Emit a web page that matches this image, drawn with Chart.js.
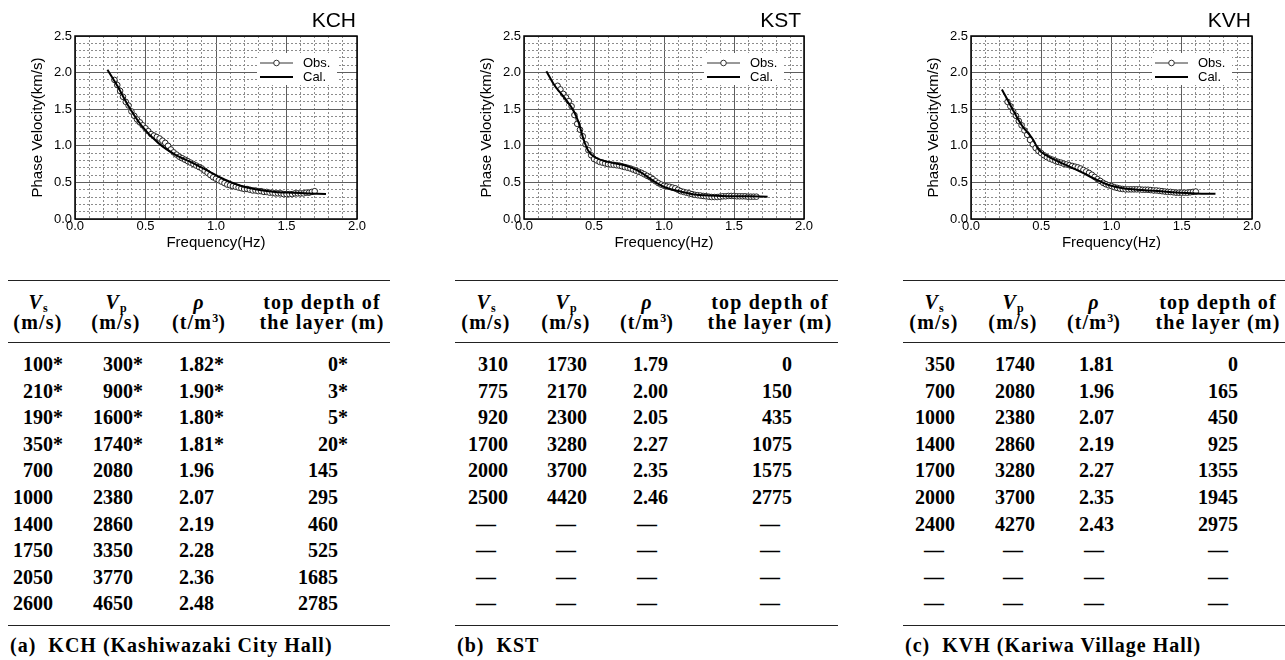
<!DOCTYPE html>
<html>
<head>
<meta charset="utf-8">
<script src="https://cdn.jsdelivr.net/npm/chart.js@4.4.1/dist/chart.umd.min.js"></script>
<style>
  body { margin: 0; width: 1285px; height: 660px; background: #fff; position: relative; overflow: hidden;
         font-family: "Liberation Serif", "Times New Roman", serif; color: #000; }
  canvas { position: absolute; top: 0; }
  .st { position: absolute; top: 7px; font: 21px "Liberation Sans", Arial, sans-serif; line-height: 26px; text-align: right; width: 100px; }
  .rule { position: absolute; height: 0; border-top: 1.3px solid #222; }
  .cell { position: absolute; font-weight: bold; font-size: 20px; line-height: 24px; white-space: nowrap; width: 200px; }
  .r { text-align: right; }
  .c { text-align: center; }
  .hd { letter-spacing: 1.2px; }
  .hd sub, .hd sup { font-size: 12px; letter-spacing: 0; }
  .hd sub { vertical-align: -3px; }
  .hd sup { vertical-align: 7px; line-height: 0; }
  .star { display: inline-block; width: 0; }
  .cap { position: absolute; top: 633px; font-weight: bold; font-size: 20px; letter-spacing: 1px; line-height: 24px; white-space: nowrap; }
</style>
</head>
<body>
<canvas id="kch" width="430" height="260" style="left:0px"></canvas>
<canvas id="kst" width="430" height="260" style="left:449px"></canvas>
<canvas id="kvh" width="389" height="260" style="left:896px"></canvas>
<div class="st" style="left:256px">KCH</div>
<div class="st" style="left:701px">KST</div>
<div class="st" style="left:1151px">KVH</div>
<div id="tables"></div>

<script>
// axis tick labels
const freqLabels = ["0.0", "0.5", "1.0", "1.5", "2.0"];
const velLabels = ["0.0", "0.5", "1.0", "1.5", "2.0", "2.5"];

// KCH dispersion curves
const kchObsF = [0.28,0.30,0.32,0.34,0.36,0.38,0.40,0.42,0.44,0.46,0.48,0.50,0.52,0.54,0.56,0.58,0.60,0.62,0.64,0.66,0.68,0.70,0.72,0.74,0.76,0.78,0.80,0.82,0.84,0.86,0.88,0.90,0.92,0.94,0.96,0.98,1.00,1.02,1.04,1.06,1.08,1.10,1.12,1.14,1.16,1.18,1.20,1.22,1.24,1.26,1.28,1.30,1.32,1.34,1.36,1.38,1.40,1.42,1.44,1.46,1.48,1.50,1.52,1.54,1.56,1.58,1.60,1.62,1.64,1.66,1.68,1.70];
const kchObsV = [1.90,1.83,1.75,1.67,1.60,1.55,1.47,1.41,1.36,1.32,1.28,1.24,1.20,1.16,1.14,1.12,1.10,1.07,1.04,1.00,0.95,0.91,0.88,0.85,0.83,0.81,0.79,0.77,0.75,0.73,0.71,0.69,0.66,0.63,0.60,0.57,0.55,0.53,0.51,0.49,0.47,0.46,0.45,0.44,0.43,0.42,0.41,0.41,0.40,0.39,0.39,0.38,0.38,0.37,0.37,0.36,0.36,0.35,0.35,0.35,0.34,0.34,0.34,0.34,0.35,0.35,0.35,0.35,0.36,0.36,0.37,0.38];
const kchCalF = [0.23,0.30,0.38,0.47,0.59,0.71,0.83,0.95,1.06,1.18,1.30,1.42,1.54,1.66,1.78];
const kchCalV = [2.04,1.82,1.54,1.28,1.04,0.88,0.77,0.65,0.54,0.45,0.40,0.37,0.36,0.35,0.34];

// KST dispersion curves
const kstObsF = [0.24,0.26,0.28,0.30,0.32,0.34,0.36,0.38,0.40,0.42,0.44,0.46,0.48,0.50,0.52,0.54,0.56,0.58,0.60,0.62,0.64,0.66,0.68,0.70,0.72,0.74,0.76,0.78,0.80,0.82,0.84,0.86,0.88,0.90,0.92,0.94,0.96,0.98,1.00,1.02,1.04,1.06,1.08,1.10,1.12,1.14,1.16,1.18,1.20,1.22,1.24,1.26,1.28,1.30,1.32,1.34,1.36,1.38,1.40,1.42,1.44,1.46,1.48,1.50,1.52,1.54,1.56,1.58,1.60,1.62,1.64,1.66];
const kstObsV = [1.82,1.77,1.71,1.66,1.61,1.54,1.42,1.30,1.22,1.13,1.02,0.94,0.87,0.82,0.80,0.78,0.77,0.76,0.75,0.745,0.74,0.735,0.73,0.72,0.71,0.70,0.69,0.675,0.66,0.645,0.63,0.61,0.59,0.57,0.545,0.515,0.49,0.47,0.455,0.445,0.44,0.43,0.42,0.40,0.38,0.37,0.36,0.35,0.34,0.33,0.325,0.32,0.315,0.31,0.305,0.30,0.30,0.30,0.305,0.31,0.31,0.315,0.315,0.315,0.31,0.31,0.31,0.31,0.305,0.305,0.305,0.305];
const kstCalF = [0.16,0.22,0.30,0.355,0.39,0.425,0.46,0.51,0.60,0.72,0.82,0.94,1.01,1.13,1.22,1.41,1.60,1.74];
const kstCalV = [2.02,1.82,1.63,1.475,1.32,1.09,0.93,0.84,0.78,0.735,0.655,0.50,0.43,0.37,0.335,0.315,0.31,0.305];

// KVH dispersion curves
const kvhObsF = [0.26,0.28,0.30,0.32,0.34,0.36,0.38,0.40,0.42,0.44,0.46,0.48,0.50,0.52,0.54,0.56,0.58,0.60,0.62,0.64,0.66,0.68,0.70,0.72,0.74,0.76,0.78,0.80,0.82,0.84,0.86,0.88,0.90,0.92,0.94,0.96,0.98,1.00,1.02,1.04,1.06,1.08,1.10,1.12,1.14,1.16,1.18,1.20,1.22,1.24,1.26,1.28,1.30,1.32,1.34,1.36,1.38,1.40,1.42,1.44,1.46,1.48,1.50,1.52,1.54,1.56,1.58,1.60];
const kvhObsV = [1.60,1.54,1.47,1.41,1.34,1.28,1.21,1.15,1.08,1.02,0.97,0.93,0.90,0.87,0.845,0.825,0.81,0.795,0.78,0.77,0.755,0.745,0.735,0.725,0.715,0.705,0.69,0.67,0.65,0.63,0.605,0.575,0.545,0.52,0.495,0.475,0.46,0.45,0.435,0.425,0.415,0.41,0.405,0.405,0.405,0.405,0.405,0.405,0.40,0.40,0.40,0.395,0.39,0.39,0.385,0.38,0.375,0.37,0.37,0.365,0.36,0.36,0.36,0.36,0.36,0.365,0.37,0.375];
const kvhCalF = [0.22,0.29,0.365,0.44,0.48,0.555,0.65,0.77,0.89,0.98,1.08,1.22,1.41,1.60,1.74];
const kvhCalV = [1.77,1.52,1.27,1.09,0.95,0.85,0.76,0.655,0.54,0.465,0.42,0.395,0.37,0.35,0.345];

// layer tables
const kchVs = ["100*","210*","190*","350*","700","1000","1400","1750","2050","2600"];
const kchVp = ["300*","900*","1600*","1740*","2080","2380","2860","3350","3770","4650"];
const kchRho = ["1.82*","1.90*","1.80*","1.81*","1.96","2.07","2.19","2.28","2.36","2.48"];
const kchDepth = ["0*","3*","5*","20*","145","295","460","525","1685","2785"];

const kstVs = ["310","775","920","1700","2000","2500","—","—","—","—"];
const kstVp = ["1730","2170","2300","3280","3700","4420","—","—","—","—"];
const kstRho = ["1.79","2.00","2.05","2.27","2.35","2.46","—","—","—","—"];
const kstDepth = ["0","150","435","1075","1575","2775","—","—","—","—"];

const kvhVs = ["350","700","1000","1400","1700","2000","2400","—","—","—"];
const kvhVp = ["1740","2080","2380","2860","3280","3700","4270","—","—","—"];
const kvhRho = ["1.81","1.96","2.07","2.19","2.27","2.35","2.43","—","—","—"];
const kvhDepth = ["0","165","450","925","1355","1945","2975","—","—","—"];

Chart.defaults.font.family = '"Liberation Sans", Arial, sans-serif';
Chart.defaults.color = "#000";

function isMajor(v) {
  return Math.abs(v * 2 - Math.round(v * 2)) < 1e-6;
}

function toPoints(xs, ys) {
  return xs.map((x, i) => ({ x: x, y: ys[i] }));
}

// frame round the plot area
const frame = {
  id: "frame",
  afterDraw(chart) {
    const a = chart.chartArea, c = chart.ctx;
    c.save();
    c.strokeStyle = "#000";
    c.lineWidth = 1.5;
    c.strokeRect(a.left, a.top, a.right - a.left, a.bottom - a.top);
    c.restore();
  }
};

// small legend box inside the plot, top right
const innerLegend = {
  id: "innerLegend",
  afterDatasetsDraw(chart) {
    const a = chart.chartArea, c = chart.ctx;
    const x0 = a.right - 97, x1 = a.right - 64, tx = a.right - 54;
    const y1 = a.top + 27, y2 = a.top + 41;
    c.save();
    c.fillStyle = "#fff";
    c.fillRect(a.right - 100, a.top + 17, 80, 32);
    c.strokeStyle = "#333";
    c.lineWidth = 1;
    c.beginPath(); c.moveTo(x0, y1); c.lineTo(x1, y1); c.stroke();
    c.beginPath(); c.arc((x0 + x1) / 2, y1, 2.8, 0, Math.PI * 2);
    c.fillStyle = "#fff"; c.fill(); c.stroke();
    c.strokeStyle = "#000";
    c.lineWidth = 2;
    c.beginPath(); c.moveTo(x0, y2); c.lineTo(x1, y2); c.stroke();
    c.fillStyle = "#000";
    c.font = '13px "Liberation Sans", Arial, sans-serif';
    c.textBaseline = "middle";
    c.fillText("Obs.", tx, y1);
    c.fillText("Cal.", tx, y2);
    c.restore();
  }
};

function makeChart(id, obsF, obsV, calF, calV, padRight) {
  const ctx = document.getElementById(id).getContext("2d");
  return new Chart(ctx, {
    type: "line",
    data: {
      datasets: [
        {
          label: "Cal.",
          data: toPoints(calF, calV),
          borderColor: "#000",
          borderWidth: 2,
          pointRadius: 0,
          cubicInterpolationMode: "monotone",
          order: 0
        },
        {
          label: "Obs.",
          data: toPoints(obsF, obsV),
          borderColor: "#333",
          borderWidth: 0.8,
          pointRadius: 2.8,
          pointBorderWidth: 1,
          pointBorderColor: "#222",
          pointBackgroundColor: "#fff",
          order: 1
        }
      ]
    },
    options: {
      responsive: false,
      devicePixelRatio: 1,
      animation: false,
      layout: { padding: { top: 36, right: padRight, bottom: 0, left: 0 } },
      plugins: { legend: { display: false }, tooltip: { enabled: false } },
      scales: {
        x: {
          type: "linear",
          min: 0,
          max: 2,
          afterFit: function (s) { s.height = 41; },
          ticks: {
            stepSize: 0.1,
            autoSkip: false,
            maxRotation: 0,
            padding: 0,
            font: { size: 13 },
            callback: function (v) {
              const s = Number(v).toFixed(1);
              return freqLabels.includes(s) && isMajor(v) ? s : "";
            }
          },
          grid: {
            drawTicks: false,
            lineWidth: 1,
            color: c => (c.tick && isMajor(c.tick.value) ? "#5e5e5e" : "#8c8c8c")
          },
          border: {
            display: false,
            dash: c => (c.tick && !isMajor(c.tick.value) ? [2, 2] : [])
          },
          title: {
            display: true,
            text: "Frequency(Hz)",
            font: { size: 15 },
            padding: { top: 0, bottom: 8 }
          }
        },
        y: {
          min: 0,
          max: 2.5,
          afterFit: function (s) { s.width = 75; },
          ticks: {
            stepSize: 0.1,
            autoSkip: false,
            padding: 3,
            font: { size: 13 },
            callback: function (v) {
              const s = Number(v).toFixed(1);
              return velLabels.includes(s) && isMajor(v) ? s : "";
            }
          },
          grid: {
            drawTicks: false,
            lineWidth: 1,
            color: c => (c.tick && isMajor(c.tick.value) ? "#5e5e5e" : "#8c8c8c")
          },
          border: {
            display: false,
            dash: c => (c.tick && !isMajor(c.tick.value) ? [2, 2] : [])
          },
          title: {
            display: true,
            text: "Phase Velocity(km/s)",
            font: { size: 15 },
            padding: { top: 29, bottom: 0 }
          }
        }
      }
    },
    plugins: [frame, innerLegend]
  });
}

makeChart("kch", kchObsF, kchObsV, kchCalF, kchCalV, 73);
makeChart("kst", kstObsF, kstObsV, kstCalF, kstCalV, 75);
makeChart("kvh", kvhObsF, kvhObsV, kvhCalF, kvhCalV, 33);

// tables
const holder = document.getElementById("tables");

function addDiv(cls, left, top, html, width) {
  const d = document.createElement("div");
  d.className = cls;
  d.style.left = left + "px";
  d.style.top = top + "px";
  if (width !== undefined) d.style.width = width + "px";
  d.innerHTML = html;
  holder.appendChild(d);
}

function cellHtml(t) {
  return t.endsWith("*") ? t.slice(0, -1) + '<span class="star">*</span>' : t;
}

function makeTable(x0, x1, cols, caption) {
  addDiv("rule", x0, 280, "", x1 - x0);
  addDiv("rule", x0, 342, "", x1 - x0);
  addDiv("rule", x0, 625, "", x1 - x0);
  const heads = [
    ['<i>V</i><sub>s</sub>', "(m/s)"],
    ['<i>V</i><sub>p</sub>', "(m/s)"],
    ['<i>ρ</i>', "(t/m<sup>3</sup>)"],
    ["top depth of", "the layer (m)"]
  ];
  cols.forEach((col, k) => {
    addDiv("cell c hd", col.center - 100, 290, heads[k][0]);
    addDiv("cell c hd", col.center - 100, 310, heads[k][1]);
    col.values.forEach((v, i) => {
      const top = 352 + i * 26.6;
      if (v === "—") addDiv("cell c", col.center - 100, top, v);
      else addDiv("cell r", col.right - 200, top, cellHtml(v));
    });
  });
  addDiv("cap", caption.left, 633, caption.text);
}

makeTable(8, 390, [
  { values: kchVs, right: 53, center: 38 },
  { values: kchVp, right: 133, center: 116 },
  { values: kchRho, right: 214, center: 199 },
  { values: kchDepth, right: 338, center: 322 }
], { left: 10, text: "(a)&nbsp; KCH (Kashiwazaki City Hall)" });

makeTable(455, 838, [
  { values: kstVs, right: 508, center: 486 },
  { values: kstVp, right: 587, center: 566 },
  { values: kstRho, right: 668, center: 647 },
  { values: kstDepth, right: 792, center: 770 }
], { left: 457, text: "(b)&nbsp; KST" });

makeTable(903, 1285, [
  { values: kvhVs, right: 955, center: 934 },
  { values: kvhVp, right: 1035, center: 1013 },
  { values: kvhRho, right: 1114, center: 1094 },
  { values: kvhDepth, right: 1238, center: 1218 }
], { left: 905, text: "(c)&nbsp; KVH (Kariwa Village Hall)" });
</script>
</body>
</html>
